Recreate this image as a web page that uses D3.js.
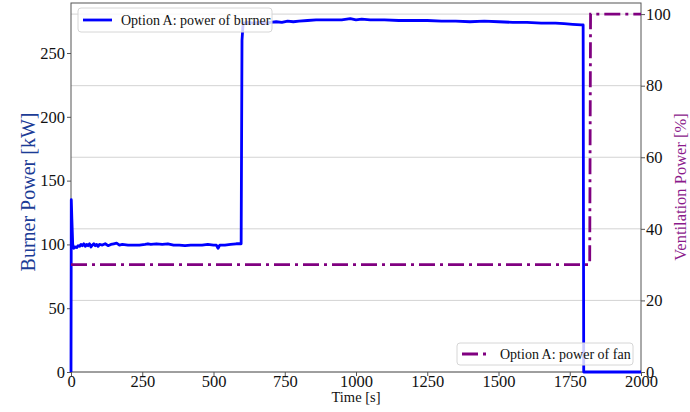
<!DOCTYPE html>
<html>
<head>
<meta charset="utf-8">
<script src="https://cdn.jsdelivr.net/npm/d3@7"></script>
<style>
  body { margin: 0; background: #fff; }
  svg text { font-family: "Liberation Serif", "Times New Roman", serif; }
</style>
</head>
<body>
<div id="chart"></div>
<script>
// Data
var burnerTime = [0, 1, 3, 6, 10, 15, 20, 25, 30, 35, 40, 45, 50, 55, 60, 65, 70, 75, 80, 85, 90, 95, 100,
    110, 120, 130, 140, 150, 160, 170, 180, 200, 220, 240, 260, 270, 280, 300, 320, 340, 360, 380, 400,
    420, 440, 460, 480, 500, 510, 516, 522, 540, 560, 580, 597, 600, 604,
    620, 640, 660, 680, 700, 720, 740, 760, 780, 800, 830, 860, 900, 950, 980, 1000, 1020, 1050, 1100,
    1150, 1200, 1250, 1300, 1350, 1400, 1450, 1500, 1550, 1600, 1650, 1700, 1730, 1760, 1790, 1797, 1799, 2000];
var burnerPower = [0, 135, 120, 100, 97, 98, 97.5, 99, 98.5, 100, 99, 100.5, 98.5, 100, 99, 100.5, 98, 99.5, 100.5, 99, 100, 98.5, 100,
    99.5, 100.5, 99, 100, 100.5, 101, 99.5, 100, 99.5, 99.5, 99.5, 100, 100.5, 100, 100.5, 100, 100.5, 99.5, 99.5, 99,
    99.5, 99.5, 99.5, 100, 99.5, 99.5, 97, 99.5, 99.5, 100, 100.5, 100.5, 260, 273.5,
    274, 273.5, 274, 273.5, 274, 274.5, 274, 275, 274.5, 275, 275.5, 276, 276, 276, 277, 276, 276.5, 276, 276,
    275.5, 275.5, 275.5, 275, 275, 274.5, 275, 274.5, 274, 274, 273.5, 273.5, 273, 272.5, 272, 272, 0, 0];
var fanTime = [0, 1820, 1823, 2000];
var fanPower = [30, 30, 100, 100];
var xTicks = [0, 250, 500, 750, 1000, 1250, 1500, 1750, 2000];
var leftTicks = [0, 50, 100, 150, 200, 250];
var rightTicks = [0, 20, 40, 60, 80, 100];

var w = 690, h = 412;
var plotL = 71, plotR = 641, plotT = 3, plotB = 372;
var serif = "'Liberation Serif', 'Times New Roman', serif";

var svg = d3.select("#chart").append("svg")
    .attr("width", w)
    .attr("height", h)
    .attr("font-family", serif);

var xScale = d3.scaleLinear().domain([0, 2000]).range([plotL, plotR]);
var yLeft = d3.scaleLinear().domain([0, 289.2]).range([plotB, plotT]);
var yRight = d3.scaleLinear().domain([0, 103.1]).range([plotB, plotT]);

// horizontal grid from the right axis
svg.append("g")
    .selectAll("line")
    .data(rightTicks)
    .enter()
    .append("line")
    .attr("x1", plotL)
    .attr("x2", plotR)
    .attr("y1", function (d) { return yRight(d); })
    .attr("y2", function (d) { return yRight(d); })
    .attr("stroke", "#d3d3d3")
    .attr("stroke-width", 1);

// axes
var fmt = d3.format("d");
var xAxis = d3.axisBottom(xScale).tickValues(xTicks).tickFormat(fmt).tickSize(4).tickPadding(-1);
var leftAxis = d3.axisLeft(yLeft).tickValues(leftTicks).tickFormat(fmt).tickSize(4).tickPadding(2);
var rightAxis = d3.axisRight(yRight).tickValues(rightTicks).tickFormat(fmt).tickSize(4).tickPadding(1);

function styleAxis(g) {
    g.attr("font-family", serif).attr("font-size", 16.5);
    g.select(".domain").remove();
    g.selectAll("line").attr("stroke", "#555");
    g.selectAll("text")
        .attr("fill", "#111")
        .attr("font-family", serif)
        .style("font-family", serif)
        .style("font-size", "16.5px");
}

svg.append("g")
    .attr("transform", "translate(0," + plotB + ")")
    .call(xAxis)
    .call(styleAxis);

svg.append("g")
    .attr("transform", "translate(" + plotL + ",0)")
    .call(leftAxis)
    .call(styleAxis);

svg.append("g")
    .attr("transform", "translate(" + plotR + ",0)")
    .call(rightAxis)
    .call(styleAxis);

// frame
svg.append("rect")
    .attr("x", plotL)
    .attr("y", plotT)
    .attr("width", plotR - plotL)
    .attr("height", plotB - plotT)
    .attr("fill", "none")
    .attr("stroke", "#555")
    .attr("stroke-width", 1);

// burner line
var burnerLine = d3.line()
    .x(function (d, i) { return xScale(burnerTime[i]); })
    .y(function (d) { return yLeft(d); });

svg.append("path")
    .datum(burnerPower)
    .attr("d", burnerLine)
    .attr("fill", "none")
    .attr("stroke", "#0000ff")
    .attr("stroke-width", 2.8)
    .attr("stroke-linejoin", "round");

// legend box with a line sample
function legend(x, y, wd, ht, label, color, dash) {
    var g = svg.append("g");
    g.append("rect")
        .attr("x", x)
        .attr("y", y)
        .attr("width", wd)
        .attr("height", ht)
        .attr("rx", 3)
        .attr("fill", "#fff")
        .attr("fill-opacity", 0.8)
        .attr("stroke", "#d6d6d6")
        .attr("stroke-width", 1);
    g.append("line")
        .attr("x1", x + 5)
        .attr("x2", x + 34)
        .attr("y1", y + ht / 2)
        .attr("y2", y + ht / 2)
        .attr("stroke", color)
        .attr("stroke-width", 2.8)
        .attr("stroke-dasharray", dash);
    g.append("text")
        .attr("x", x + 43)
        .attr("y", y + ht / 2 + 5)
        .attr("fill", "#111")
        .style("font-size", "14px")
        .text(label);
}

legend(78, 8, 194, 24, "Option A: power of burner", "#0000ff", null);

// fan line
var fanLine = d3.line()
    .x(function (d, i) { return xScale(fanTime[i]); })
    .y(function (d) { return yRight(d); });

svg.append("path")
    .datum(fanPower)
    .attr("d", fanLine)
    .attr("fill", "none")
    .attr("stroke", "#800080")
    .attr("stroke-width", 2.8)
    .attr("stroke-dasharray", "16,5,3,5");

legend(457, 343, 176, 22, "Option A: power of fan", "#800080", "16,5,3,5");

// axis titles
svg.append("text")
    .attr("transform", "translate(35,192) rotate(-90)")
    .attr("text-anchor", "middle")
    .attr("fill", "#1c3c96")
    .style("font-size", "20px")
    .text("Burner Power [kW]");

svg.append("text")
    .attr("transform", "translate(686,187) rotate(-90)")
    .attr("text-anchor", "middle")
    .attr("fill", "#8b1a8b")
    .style("font-size", "16.5px")
    .text("Ventilation Power [%]");

svg.append("text")
    .attr("x", (plotL + plotR) / 2)
    .attr("y", 402)
    .attr("text-anchor", "middle")
    .attr("fill", "#111")
    .style("font-size", "14.5px")
    .text("Time [s]");
</script>
</body>
</html>
